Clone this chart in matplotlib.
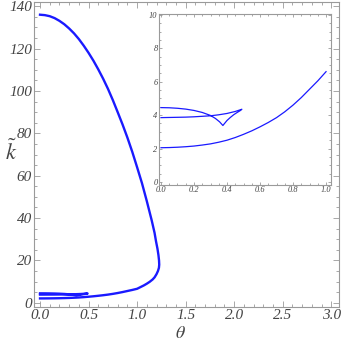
import matplotlib.pyplot as plt
from matplotlib import font_manager
from matplotlib.ticker import MultipleLocator

# upper branch from theta=0 through the turning point down to theta=1
theta_upper = [0.0, 0.05, 0.1, 0.15, 0.2, 0.25, 0.3, 0.35, 0.4, 0.45, 0.5, 0.55, 0.6,
               0.65, 0.7, 0.75, 0.8, 0.85, 0.9, 0.95, 1.0, 1.05, 1.1, 1.15, 1.18,
               1.195, 1.21, 1.22, 1.226, 1.228, 1.225, 1.215, 1.2, 1.18, 1.16, 1.13,
               1.1, 1.07, 1.035, 1.0]
k_upper = [136, 135.8, 135.3, 134.4, 133.1, 131.5, 129.5, 127.2, 124.5, 121.4, 118, 114.3, 110.2,
           105.8, 101, 95.7, 90, 84.2, 78, 71.3, 64, 56.5, 48, 39, 33,
           29, 25.5, 22.5, 20, 18, 16.5, 15, 13.5, 12, 11, 9.9,
           9, 8.2, 7.4, 6.6]

# lower branch from theta=1 back to theta=0
theta_lower = [1.0, 0.95, 0.9, 0.85, 0.8, 0.75, 0.7, 0.65, 0.6, 0.55, 0.5, 0.45, 0.4,
               0.35, 0.3, 0.25, 0.2, 0.15, 0.1, 0.05, 0.0]
k_lower = [6.6, 6.05, 5.55, 5.05, 4.6, 4.2, 3.85, 3.56, 3.3, 3.06, 2.85, 2.66, 2.5,
           2.38, 2.28, 2.21, 2.15, 2.11, 2.08, 2.06, 2.05]

# swallowtail branch near k ~ 4
theta_tail = [0.0, 0.05, 0.1, 0.15, 0.2, 0.25, 0.3, 0.33, 0.355, 0.375,
              0.385, 0.4, 0.42, 0.44, 0.46, 0.48, 0.49,
              0.45, 0.4, 0.35, 0.3, 0.25, 0.2, 0.15, 0.1, 0.05, 0.0]
k_tail = [4.45, 4.44, 4.41, 4.36, 4.28, 4.16, 3.98, 3.8, 3.6, 3.38,
          3.5, 3.68, 3.86, 4.02, 4.15, 4.27, 4.35,
          4.22, 4.1, 4.02, 3.96, 3.93, 3.9, 3.88, 3.87, 3.86, 3.85]

frame_gray = "#9a9a9a"
text_gray = "#444444"
blue = "#1a1aff"

plt.rcParams["mathtext.fontset"] = "stix"

# italic serif for tick labels (Mathematica look)
italic_file = None
for f in font_manager.findSystemFonts():
    if "LiberationSerif-Italic" in f:
        italic_file = f
        break
if italic_file:
    tick_font = font_manager.FontProperties(fname=italic_file)
else:
    tick_font = font_manager.FontProperties(family="serif", style="italic")


def style_frame(ax, size, major_len, minor_len):
    for s in ax.spines.values():
        s.set_color(frame_gray)
        s.set_linewidth(0.8)
    ax.tick_params(which="both", direction="in", top=True, right=True,
                   color=frame_gray, labelcolor=text_gray, width=0.6)
    ax.tick_params(which="major", length=major_len)
    ax.tick_params(which="minor", length=minor_len)
    for lab in ax.get_xticklabels() + ax.get_yticklabels():
        lab.set_fontproperties(tick_font)
        lab.set_fontsize(size)


fig = plt.figure(figsize=(3.44, 3.44), dpi=100)
ax = fig.add_axes([34 / 344, 37 / 344, 305 / 344, 305 / 344])
ax.plot(theta_upper + theta_lower, k_upper + k_lower, color=blue, lw=1.7)
ax.plot(theta_tail, k_tail, color=blue, lw=1.7)
ax.set_xlim(-0.062, 3.08)
ax.set_ylim(-2.0, 142)
ax.xaxis.set_minor_locator(MultipleLocator(0.1))
ax.yaxis.set_minor_locator(MultipleLocator(5))
ax.set_xticks([0.0, 0.5, 1.0, 1.5, 2.0, 2.5, 3.0], ["0.0", "0.5", "1.0", "1.5", "2.0", "2.5", "3.0"])
ax.set_yticks([0, 20, 40, 60, 80, 100, 120, 140], ["0", "20", "40", "60", "80", "100", "120", "140"])
style_frame(ax, 11, 4, 2)
ax.tick_params(axis="x", pad=1.5)
ax.tick_params(axis="y", pad=1.5)
fig.text(180 / 344, 2 / 344, r"$\theta$", fontsize=13, color=text_gray,
         ha="center", va="bottom")
fig.text(11 / 344, 1 - 151 / 344, r"$\tilde{k}$", fontsize=16, color=text_gray,
         ha="center", va="center")

ins = fig.add_axes([159 / 344, 159 / 344, 172 / 344, 171 / 344])
ins.plot(theta_lower, k_lower, color=blue, lw=0.9)
ins.plot(theta_tail, k_tail, color=blue, lw=0.9)
ins.set_xlim(-0.012, 1.03)
ins.set_ylim(-0.18, 10.05)
ins.xaxis.set_minor_locator(MultipleLocator(0.05))
ins.yaxis.set_minor_locator(MultipleLocator(0.5))
ins.set_xticks([0.0, 0.2, 0.4, 0.6, 0.8, 1.0], ["0.0", "0.2", "0.4", "0.6", "0.8", "1.0"])
ins.set_yticks([0, 2, 4, 6, 8, 10], ["0", "2", "4", "6", "8", "10"])
style_frame(ins, 6, 2.5, 1.3)
ins.tick_params(axis="both", pad=1)

fig.savefig("out.png", dpi=100)
